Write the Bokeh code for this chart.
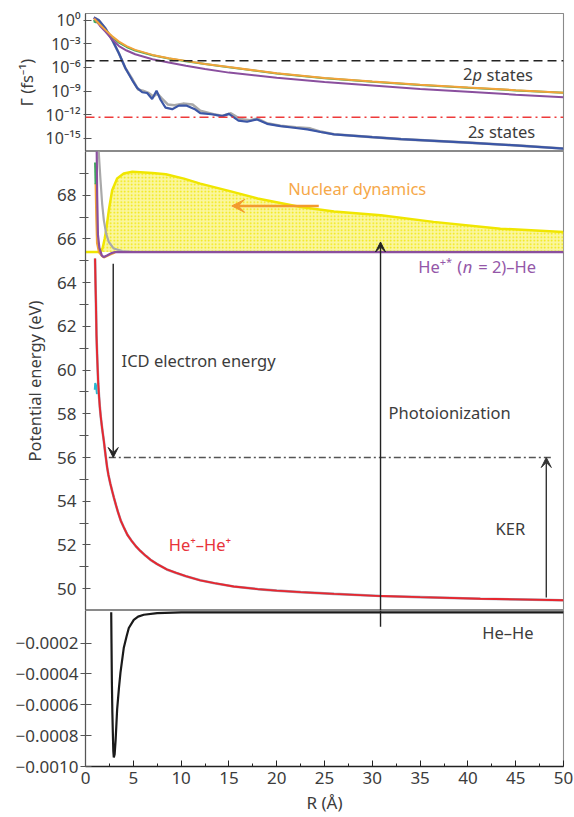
from bokeh.plotting import figure
from bokeh.layouts import column
from bokeh.models import (Range1d, FixedTicker, CustomJSTickFormatter, Arrow, VeeHead, Span)
from bokeh.core.properties import value
from bokeh.embed import file_html
from bokeh.resources import INLINE

FONT = "Noto Sans"
TXT = "#3c3c3c"

# ---------------- top panel: decay widths Gamma (fs^-1) vs R (Å) ----------------
r_2p_a = [0.9, 1.5, 2.1, 2.8, 3.5, 4.3, 5.2, 7.0, 8.7, 10.5, 12.5, 15, 20, 25, 30, 35, 40, 45, 50]
g_2p_a = [1.6, 0.28, 0.055, 8.9e-3, 1.9e-3, 5.0e-4, 1.7e-4, 3.9e-5, 1.5e-5, 6.8e-6, 2.8e-6,
          1.1e-6, 1.8e-7, 4.5e-8, 1.6e-8, 6.3e-9, 2.8e-9, 1.3e-9, 6.3e-10]
r_2p_b = [0.9, 1.5, 2.1, 2.8, 3.5, 4.3, 5.2, 7.0, 8.7, 10.5, 12.5, 15, 20, 25, 30, 35, 40, 45, 50]
g_2p_b = [2.0, 0.2, 0.034, 3.5e-3, 5.2e-4, 1.4e-4, 4.7e-5, 1.1e-5, 4.2e-6, 1.6e-6, 6.3e-7,
          2.2e-7, 5.0e-8, 1.4e-8, 5.0e-9, 1.8e-9, 7.9e-10, 3.5e-10, 1.6e-10]
r_2p_c = [0.9, 0.97, 1.05, 1.12, 1.2, 1.3, 1.5, 2.1, 2.8, 3.5, 4.3, 5.2, 7.0, 8.7, 10.5, 12.5,
          15, 20, 25, 30, 35, 40, 45, 50]
g_2p_c = [1.1, 0.5, 1.0, 0.45, 0.8, 0.5, 0.28, 0.045, 7.1e-3, 1.4e-3, 4.0e-4, 1.4e-4, 3.5e-5,
          1.4e-5, 6.3e-6, 2.7e-6, 1.07e-6, 1.7e-7, 4.3e-8, 1.5e-8, 6.0e-9, 2.7e-9, 1.2e-9, 6.0e-10]
r_2s = [0.87, 1.39, 2.09, 2.79, 3.49, 4.18, 4.88, 5.4, 5.93, 6.45, 6.97, 7.43, 7.85, 8.37, 9.07,
        9.76, 10.6, 11.5, 12.0, 13.4, 14.3, 15.0, 16.0, 16.9, 17.95, 19.0, 20.4, 21.8, 23.2,
        24.6, 26, 30, 33, 40, 45, 50]
g_2s = [2.2, 1.0, 0.089, 3.2e-3, 6.3e-5, 7.9e-7, 2.5e-8, 2.5e-9, 7.1e-10, 5.6e-10, 1.0e-10,
        1.1e-9, 7.9e-11, 7.9e-12, 5.0e-12, 1.4e-11, 1.4e-11, 4.5e-12, 1.6e-12, 1.05e-12, 6.5e-13,
        1.26e-12, 1.8e-13, 1.26e-13, 2.5e-13, 6.9e-14, 3.5e-14, 2.2e-14, 1.35e-14, 6.3e-15,
        3.2e-15, 1.4e-15, 7.9e-16, 2.8e-16, 1.26e-16, 5.0e-17]
r_2s_ref = [0.87, 1.39, 2.09, 2.79, 3.49, 4.18, 4.95, 5.5, 6.0, 6.6, 7.1, 7.5, 8.0, 8.6, 9.3,
            10.2, 11.2, 12.0, 13.4, 14.3, 15.2, 16.2, 17.2, 18.0, 19.0, 20.4, 22, 23.5, 24.6,
            26, 30, 33, 40, 45, 50]
g_2s_ref = [2.2, 1.0, 0.089, 3.2e-3, 6.3e-5, 7.9e-7, 2.5e-8, 1.6e-9, 1.1e-9, 5.6e-10, 2.0e-10,
            5.0e-10, 1.1e-10, 2.0e-11, 1.6e-11, 2.5e-11, 2.0e-11, 3.2e-12, 1.1e-12, 7.0e-13,
            1.5e-12, 2.8e-13, 2.0e-13, 3.2e-13, 8.0e-14, 4.0e-14, 2.5e-14, 1.8e-14, 7e-15,
            3.2e-15, 1.4e-15, 7.9e-16, 2.8e-16, 1.26e-16, 5.0e-17]
gamma_thr_2p = 7e-6      # dashed black line
gamma_thr_2s = 4.7e-13   # red dash-dot line
gamma_ticks = [1, 1e-3, 1e-6, 1e-9, 1e-12, 1e-15]

# ---------------- middle panel: potential energy curves (eV) ----------------
r_he2p = [1.0, 1.05, 1.1, 1.15, 1.2, 1.25, 1.33, 1.4, 1.5, 1.6, 1.75, 1.92, 2.1, 2.26, 2.4, 2.6,
          2.8, 2.96, 3.2, 3.4, 3.7, 4.0, 4.4, 4.8, 5.25, 5.75, 6.3, 6.8, 7.5, 8.5, 9.5, 10.5,
          12, 13.5, 15.5, 18, 20, 22.5, 26, 30.9, 35, 41.3, 45, 50]
e_he2p = [65.1, 63.9, 62.9, 61.6, 60.9, 60.3, 59.4, 58.9, 58.3, 57.85, 57.3, 56.75, 56.1, 55.56,
          55.2, 54.8, 54.45, 54.18, 53.8, 53.5, 53.1, 52.81, 52.45, 52.2, 51.95, 51.72, 51.5,
          51.32, 51.12, 50.88, 50.72, 50.57, 50.38, 50.25, 50.1, 49.98, 49.91, 49.84, 49.76,
          49.66, 49.61, 49.54, 49.51, 49.47]
r_n2 = [1.17, 1.22, 1.3, 1.45, 1.7, 1.92, 2.3, 2.7, 3.1, 10, 20, 30, 40, 50]
e_n2 = [70.2, 68.0, 66.2, 65.6, 65.25, 65.17, 65.25, 65.35, 65.4, 65.4, 65.4, 65.4, 65.4, 65.4]
r_n2_gray = [1.36, 1.45, 1.57, 1.74, 1.92, 2.16, 2.44, 2.96, 3.84, 5.0, 50]
e_n2_gray = [70.2, 69.5, 68.69, 67.62, 66.85, 66.24, 65.86, 65.56, 65.44, 65.41, 65.41]
r_n2_orange = [1.05, 1.12, 1.2, 1.4, 1.7, 1.92, 2.3, 3.1]
e_n2_orange = [68.55, 67.0, 65.8, 65.4, 65.22, 65.15, 65.23, 65.38]
r_n2_green = [1.0, 1.05]
e_n2_green = [69.5, 68.5]
r_cyan = [0.97, 1.02, 1.1, 1.2]
e_cyan = [59.1, 59.4, 59.3, 58.9]
r_wave = [0, 1.6, 1.8, 2.0, 2.16, 2.44, 2.79, 3.31, 4.0, 4.9, 7.0, 8.4, 10.3, 12, 15, 18, 22.5,
          26, 30.9, 36.4, 43.4, 50]
e_wave = [65.4, 65.4, 65.6, 66.0, 66.4, 67.31, 68.23, 68.76, 68.99, 69.07, 69.02, 68.96, 68.76,
          68.53, 68.2, 67.85, 67.46, 67.25, 67.08, 66.78, 66.47, 66.32]
e_wave_floor = [65.4] * len(r_wave)
r_final = [2.44, 48.8]
e_final = [56.0, 56.0]

# arrows (R, E)
icd_arrow = dict(r=2.9, e_from=64.87, e_to=56.0)
photo_arrow = dict(r=30.86, e_from=49.0, e_to=65.86)
ker_arrow = dict(r=48.2, e_from=49.6, e_to=56.0)
nuc_arrow = dict(r_from=24.4, r_to=15.3, e=67.51)
photo_low = [-0.000094, 0.0000117]

# ---------------- bottom panel: He-He ground state ----------------
r_hehe = [2.69, 2.72, 2.76, 2.81, 2.86, 2.91, 2.96, 3.05, 3.15, 3.31, 3.5, 3.66, 4.0, 4.3, 4.53,
          5.05, 5.5, 6.1, 7.5, 10, 20, 30, 40, 50]
v_hehe = [0.0, -0.0002, -0.000455, -0.00065, -0.00078, -0.0009, -0.000941, -0.00092, -0.00083,
          -0.000629, -0.00049, -0.00039, -0.000232, -0.000155, -0.000102, -0.000049, -0.000028,
          -0.000016, -0.000005, -0.000001, 0.0, 0.0, 0.0, 0.0]

r_ticks = [0, 5, 10, 15, 20, 25, 30, 35, 40, 45, 50]
r_minor = [2.5, 7.5, 12.5, 17.5, 22.5, 27.5, 32.5, 37.5, 42.5, 47.5]
e_ticks = [50, 52, 54, 56, 58, 60, 62, 64, 66, 68]
e_minor = [49, 51, 53, 55, 57, 59, 61, 63, 65, 67, 69]
v_ticks = [-0.0010, -0.0008, -0.0006, -0.0004, -0.0002]

ORANGE = "#f2a33a"
PURPLE = "#8a4f9e"
BLUE = "#3b56a6"
GREEN = "#3aaa5a"
GRAY = "#a9a9a9"
RED = "#e8262e"
YELLOW = "#f0e600"

xr = Range1d(0, 50)
LEFT = 85


def make(height, yr, top=0, bottom=0, ytype="linear", xloc=None):
    p = figure(width=574, height=height, x_range=xr, y_range=yr, y_axis_type=ytype,
               x_axis_location=xloc, output_backend="svg", toolbar_location=None,
               min_border_left=LEFT, min_border_right=11, min_border_top=top,
               min_border_bottom=bottom)
    p.grid.visible = False
    p.outline_line_color = "#8a8a8a"
    p.outline_line_width = 1.1
    ax = p.yaxis[0]
    ax.axis_line_color = "#555555"
    ax.axis_line_width = 1.2
    ax.major_tick_line_color = "#555555"
    ax.minor_tick_line_color = "#555555"
    ax.major_label_text_font = FONT
    ax.major_label_text_font_size = "17px"
    ax.major_label_text_color = TXT
    ax.axis_label_text_font = FONT
    ax.axis_label_text_font_size = "16.5px"
    ax.axis_label_text_font_style = "normal"
    ax.axis_label_text_color = TXT
    return p


def txt(p, x, y, s, color=TXT, size="16.5px", style="normal", xo=0, yo=0):
    p.text(x=[x], y=[y], text=[s], text_font=value(FONT), text_font_size=value(size),
           text_font_style=style, text_color=color, text_baseline="middle", text_align="left",
           x_offset=xo, y_offset=yo)


# ---------------- top ----------------
p1 = make(151, Range1d(2.1e-17, 7.1), top=13, ytype="log")
ay = p1.yaxis[0]
ay.ticker = FixedTicker(ticks=gamma_ticks, minor_ticks=[])
ay.formatter = CustomJSTickFormatter(code="""
const sup = {"0":"\u2070","1":"\u00b9","2":"\u00b2","3":"\u00b3","4":"\u2074","5":"\u2075",
             "6":"\u2076","7":"\u2077","8":"\u2078","9":"\u2079","-":"\u207b"};
const e = Math.round(Math.log10(tick));
return "10" + String(e).split("").map(c => sup[c]).join("");
""")
ay.major_label_text_font_size = "16px"
ay.major_tick_in = 6
ay.major_tick_out = 2
ay.major_label_standoff = 3
ay.axis_label = "\u0393 (fs\u207b\u00b9)"
ay.axis_label_standoff = 5

p1.add_layout(Span(location=gamma_thr_2p, dimension="width", line_color="#222222",
                   line_width=1.6, line_dash="9 5"))
p1.add_layout(Span(location=gamma_thr_2s, dimension="width", line_color="#ee3b3b",
                   line_width=1.6, line_dash="9 4 2 4"))
p1.line(r_2s_ref, g_2s_ref, line_color=GRAY, line_width=2.6)
p1.line(r_2s, g_2s, line_color=BLUE, line_width=2.2)
p1.line(r_2p_c, g_2p_c, line_color=GREEN, line_width=2.0)
p1.line(r_2p_b, g_2p_b, line_color=PURPLE, line_width=2.0)
p1.line(r_2p_a, g_2p_a, line_color=ORANGE, line_width=2.0)

txt(p1, 39.5, 1.45e-7, "2")
txt(p1, 39.5, 1.45e-7, "p", style="italic", xo=9.4)
txt(p1, 39.5, 1.45e-7, "states", xo=23.5)
txt(p1, 40.0, 7.1e-15, "2")
txt(p1, 40.0, 7.1e-15, "s", style="italic", xo=9.4)
txt(p1, 40.0, 7.1e-15, "states", xo=21.0)

# ---------------- middle ----------------
p2 = make(459, Range1d(49, 70))
ay = p2.yaxis[0]
ay.ticker = FixedTicker(ticks=e_ticks, minor_ticks=e_minor)
ay.major_tick_in = 5
ay.major_tick_out = 3
ay.minor_tick_in = 3
ay.minor_tick_out = 6
ay.major_label_standoff = 3
ay.axis_label = "Potential energy (eV)"
ay.axis_label_standoff = 8

p2.varea(x=r_wave, y1=e_wave_floor, y2=e_wave, fill_color="#faf6a0", fill_alpha=1.0,
         hatch_pattern="dot", hatch_color=YELLOW, hatch_scale=3.5, hatch_weight=2.5)
p2.line(r_wave, e_wave, line_color=YELLOW, line_width=2.5)
p2.line(r_n2_gray, e_n2_gray, line_color=GRAY, line_width=2.2)
p2.line(r_n2_orange, e_n2_orange, line_color=ORANGE, line_width=2.0)
p2.line(r_n2_green, e_n2_green, line_color=GREEN, line_width=2.0)
p2.line(r_n2, e_n2, line_color=PURPLE, line_width=2.2)
p2.line(r_cyan, e_cyan, line_color="#2ab7d0", line_width=2.0)
p2.line(r_he2p, e_he2p, line_color="#a4a0b0", line_width=2.6)
p2.line(r_he2p, e_he2p, line_color=RED, line_width=1.9)
p2.line(r_final, e_final, line_color="#555555", line_width=1.4, line_dash="7 3 2 3")

p2.add_layout(Arrow(end=VeeHead(size=10, fill_color="#222222", line_color="#222222"),
                    x_start=icd_arrow["r"], y_start=icd_arrow["e_from"],
                    x_end=icd_arrow["r"], y_end=icd_arrow["e_to"],
                    line_color="#222222", line_width=1.4))
p2.add_layout(Arrow(end=VeeHead(size=10, fill_color="#222222", line_color="#222222"),
                    x_start=photo_arrow["r"], y_start=photo_arrow["e_from"],
                    x_end=photo_arrow["r"], y_end=photo_arrow["e_to"],
                    line_color="#222222", line_width=1.4))
p2.add_layout(Arrow(end=VeeHead(size=10, fill_color="#333333", line_color="#333333"),
                    x_start=ker_arrow["r"], y_start=ker_arrow["e_from"],
                    x_end=ker_arrow["r"], y_end=ker_arrow["e_to"],
                    line_color="#333333", line_width=1.4))
p2.add_layout(Arrow(end=VeeHead(size=13, fill_color="#f39a2c", line_color="#f39a2c"),
                    x_start=nuc_arrow["r_from"], y_start=nuc_arrow["e"],
                    x_end=nuc_arrow["r_to"], y_end=nuc_arrow["e"],
                    line_color="#f39a2c", line_width=2.5))

txt(p2, 21.2, 68.32, "Nuclear dynamics", color="#f6a849")
txt(p2, 3.77, 60.44, "ICD electron energy")
txt(p2, 31.7, 58.07, "Photoionization")
txt(p2, 42.9, 52.75, "KER")
txt(p2, 8.7, 52.0, "He\u207a\u2013He\u207a", color="#e8333a")
PT = "#9457a8"
txt(p2, 34.8, 64.75, "He", color=PT)
txt(p2, 34.8, 64.75, "+*", color=PT, size="11px", xo=21.5, yo=-5)
txt(p2, 34.8, 64.75, "(", color=PT, xo=39.0)
txt(p2, 34.8, 64.75, "n", color=PT, style="italic", xo=44.5)
txt(p2, 34.8, 64.75, "= 2)\u2013He", color=PT, xo=60.0)

# ---------------- bottom ----------------
p3 = make(207, Range1d(-0.001, 0.0000117), bottom=51, xloc="below")
ay = p3.yaxis[0]
ay.ticker = FixedTicker(ticks=v_ticks, minor_ticks=[])
ay.formatter = CustomJSTickFormatter(code="""
return tick.toFixed(4).replace("-", "\u2212");
""")
ay.major_tick_in = 6
ay.major_tick_out = 5
ay.major_label_standoff = 2
ax = p3.xaxis[0]
ax.ticker = FixedTicker(ticks=r_ticks, minor_ticks=r_minor)
ax.axis_line_color = "#222222"
ax.axis_line_width = 1.3
ax.major_tick_in = 6
ax.major_tick_out = 0
ax.minor_tick_in = 3
ax.minor_tick_out = 0
ax.major_tick_line_color = "#222222"
ax.minor_tick_line_color = "#222222"
ax.major_label_text_font = FONT
ax.major_label_text_font_size = "17px"
ax.major_label_text_color = TXT
ax.major_label_standoff = 5
ax.axis_label = "R (\u00c5)"
ax.axis_label_text_font = FONT
ax.axis_label_text_font_size = "17px"
ax.axis_label_text_font_style = "normal"
ax.axis_label_text_color = TXT
ax.axis_label_standoff = 4

p3.line(r_hehe, v_hehe, line_color="#1a1a1a", line_width=2.2)
p3.segment(x0=[photo_arrow["r"]], y0=[photo_low[0]], x1=[photo_arrow["r"]], y1=[photo_low[1]],
           line_color="#222222", line_width=1.4)
txt(p3, 41.5, -0.000133, "He\u2013He")

layout = column(p1, p2, p3, spacing=0)
open("out.html", "w").write(file_html(layout, INLINE))
